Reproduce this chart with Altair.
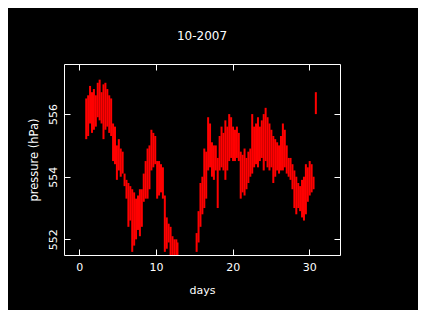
import altair as alt
import pandas as pd

# Data: each column = one slice of time (days), with the
# lowest and highest pressure recorded in that slice (hPa).
days = [0.9, 1.15, 1.4, 1.65, 1.9, 2.15, 2.4, 2.65, 2.9, 3.15, 3.4, 3.65, 3.9, 4.15,
        4.4, 4.65, 4.9, 5.15, 5.4, 5.65, 5.9, 6.15, 6.4, 6.65, 6.9, 7.15, 7.4, 7.65,
        7.9, 8.15, 8.4, 8.65, 8.9, 9.15, 9.4, 9.65, 9.9, 10.15, 10.4, 10.65, 10.9,
        11.15, 11.4, 11.65, 11.9, 12.15, 12.4, 12.65, 12.8,
        15.3, 15.55, 15.8, 16.05, 16.3, 16.55, 16.8, 17.05, 17.3, 17.55, 17.8, 18.05,
        18.3, 18.55, 18.8, 19.05, 19.3, 19.55, 19.8, 20.05, 20.3, 20.55, 20.8, 21.05,
        21.3, 21.55, 21.8, 22.05, 22.3, 22.55, 22.8, 23.05, 23.3, 23.55, 23.8, 24.05,
        24.3, 24.55, 24.8, 25.05, 25.3, 25.55, 25.8, 26.05, 26.3, 26.55, 26.8, 27.05,
        27.3, 27.55, 27.8, 28.05, 28.3, 28.55, 28.8, 29.05, 29.3, 29.55, 29.8, 30.05,
        30.3, 30.55, 30.85]
low = [555.2, 555.3, 555.7, 555.4, 555.5, 555.6, 555.9, 555.8, 555.7, 555.2, 555.5, 555.6, 555.4, 555.3,
       554.5, 554.4, 553.9, 554.2, 554.0, 554.1, 553.7, 553.3, 552.4, 552.6, 551.6, 551.8, 552.0, 552.3,
       552.1, 552.4, 553.2, 553.3, 553.3, 553.6, 554.2, 554.3, 554.4, 553.3, 553.4, 553.5, 553.3,
       551.6, 551.7, 551.9, 551.5, 551.5, 551.5, 551.5, 551.5,
       551.6, 551.9, 552.4, 552.8, 553.0, 553.3, 554.2, 554.3, 554.0, 553.9, 554.2, 553.0,
       554.2, 554.3, 554.2, 553.9, 554.2, 554.5, 554.6, 554.5, 554.5, 554.6, 554.5, 553.3,
       553.5, 553.4, 553.6, 553.8, 554.0, 554.1, 554.3, 554.4, 554.3, 554.5, 554.6, 554.2,
       554.5, 554.3, 554.2, 554.3, 553.8, 554.0, 554.2, 554.1, 554.2, 554.2, 554.3, 554.1,
       554.0, 553.9, 553.6, 553.0, 552.8, 553.0, 552.9, 552.7, 552.6, 552.8, 553.2, 553.4,
       553.5, 553.6, 556.0]
high = [556.5, 556.6, 556.9, 556.7, 556.8, 556.6, 557.0, 557.1, 556.7, 556.95, 557.0, 556.8, 556.6, 556.5,
        555.7, 555.6, 555.0, 555.2, 554.9, 554.8, 554.1, 553.9, 553.8, 553.7, 553.6, 553.5, 553.3, 553.4,
        553.6, 553.6, 554.1, 554.5, 554.9, 555.0, 555.5, 555.4, 555.3, 554.5, 554.5, 554.4, 554.3,
        553.4, 552.7, 552.5, 552.4, 552.1, 552.0, 552.0, 551.9,
        552.2, 552.9, 553.8, 554.0, 554.9, 554.8, 555.9, 555.7, 555.1, 555.0, 555.0, 554.6,
        555.3, 555.6, 555.4, 555.8, 555.6, 556.0, 555.9, 555.6, 555.5, 555.6, 555.4, 554.8,
        554.7, 554.9, 554.6, 554.8, 554.9, 556.0, 555.6, 555.7, 555.9, 555.6, 555.8, 556.0,
        556.2, 555.9, 555.7, 555.5, 555.3, 555.2, 555.1, 555.0, 555.3, 555.7, 555.5, 555.0,
        554.6, 554.6, 554.4, 554.2, 554.0, 553.8, 553.7, 553.9, 554.0, 554.4, 554.3, 554.5,
        554.4, 554.0, 556.7]

x_ticks = [0, 10, 20, 30]
y_ticks = [552, 554, 556]
title_text = "10-2007"
x_title = "days"
y_title = "pressure (hPa)"

df = pd.DataFrame({"day": days, "low": low, "high": high})

FONT = "DejaVu Sans"
xs = alt.Scale(domain=[-2, 34], nice=False, zero=False)
ys = alt.Scale(domain=[551.5, 557.6], nice=False, zero=False)

main = alt.Chart(df).mark_rule(color="#ff0000", strokeWidth=2, clip=True).encode(
    x=alt.X("day:Q", scale=xs, title=x_title,
            axis=alt.Axis(values=x_ticks, orient="bottom", offset=-6, tickSize=6,
                          labelPadding=6, domain=False, tickColor="white",
                          labelColor="white", titleColor="white", labelFont=FONT,
                          titleFont=FONT, labelFontSize=11, titleFontSize=11,
                          titleFontWeight="normal", titlePadding=12, grid=False)),
    y=alt.Y("low:Q", scale=ys, title=y_title,
            axis=alt.Axis(values=y_ticks, orient="left", offset=-6, tickSize=6,
                          labelPadding=6, domain=False, tickColor="white",
                          labelColor="white", titleColor="white", labelFont=FONT,
                          titleFont=FONT, labelFontSize=11, titleFontSize=11.5,
                          titleFontWeight="normal", labelAngle=270, titlePadding=8,
                          grid=False)),
    y2="high:Q",
)

frame = alt.Chart(df).mark_rule(opacity=0).encode(
    x=alt.X("day:Q", scale=xs,
            axis=alt.Axis(values=x_ticks, orient="top", offset=-6, tickSize=6,
                          labels=False, domain=False, tickColor="white", title=None,
                          grid=False)),
    y=alt.Y("low:Q", scale=ys,
            axis=alt.Axis(values=y_ticks, orient="right", offset=-6, tickSize=6,
                          labels=False, domain=False, tickColor="white", title=None,
                          grid=False)),
)

chart = alt.layer(main, frame).resolve_axis(x="independent", y="independent").properties(
    width=276, height=191,
    autosize=alt.AutoSizeParams(type="none"),
    padding={"left": 56, "top": 56, "right": 78, "bottom": 55},
    background="black",
    title=alt.TitleParams(title_text, color="white", font=FONT, fontSize=12,
                          fontWeight="normal", offset=21),
).configure_view(stroke="white", strokeWidth=1)

chart.save("out.html", embed_options={"renderer": "svg", "actions": False})
